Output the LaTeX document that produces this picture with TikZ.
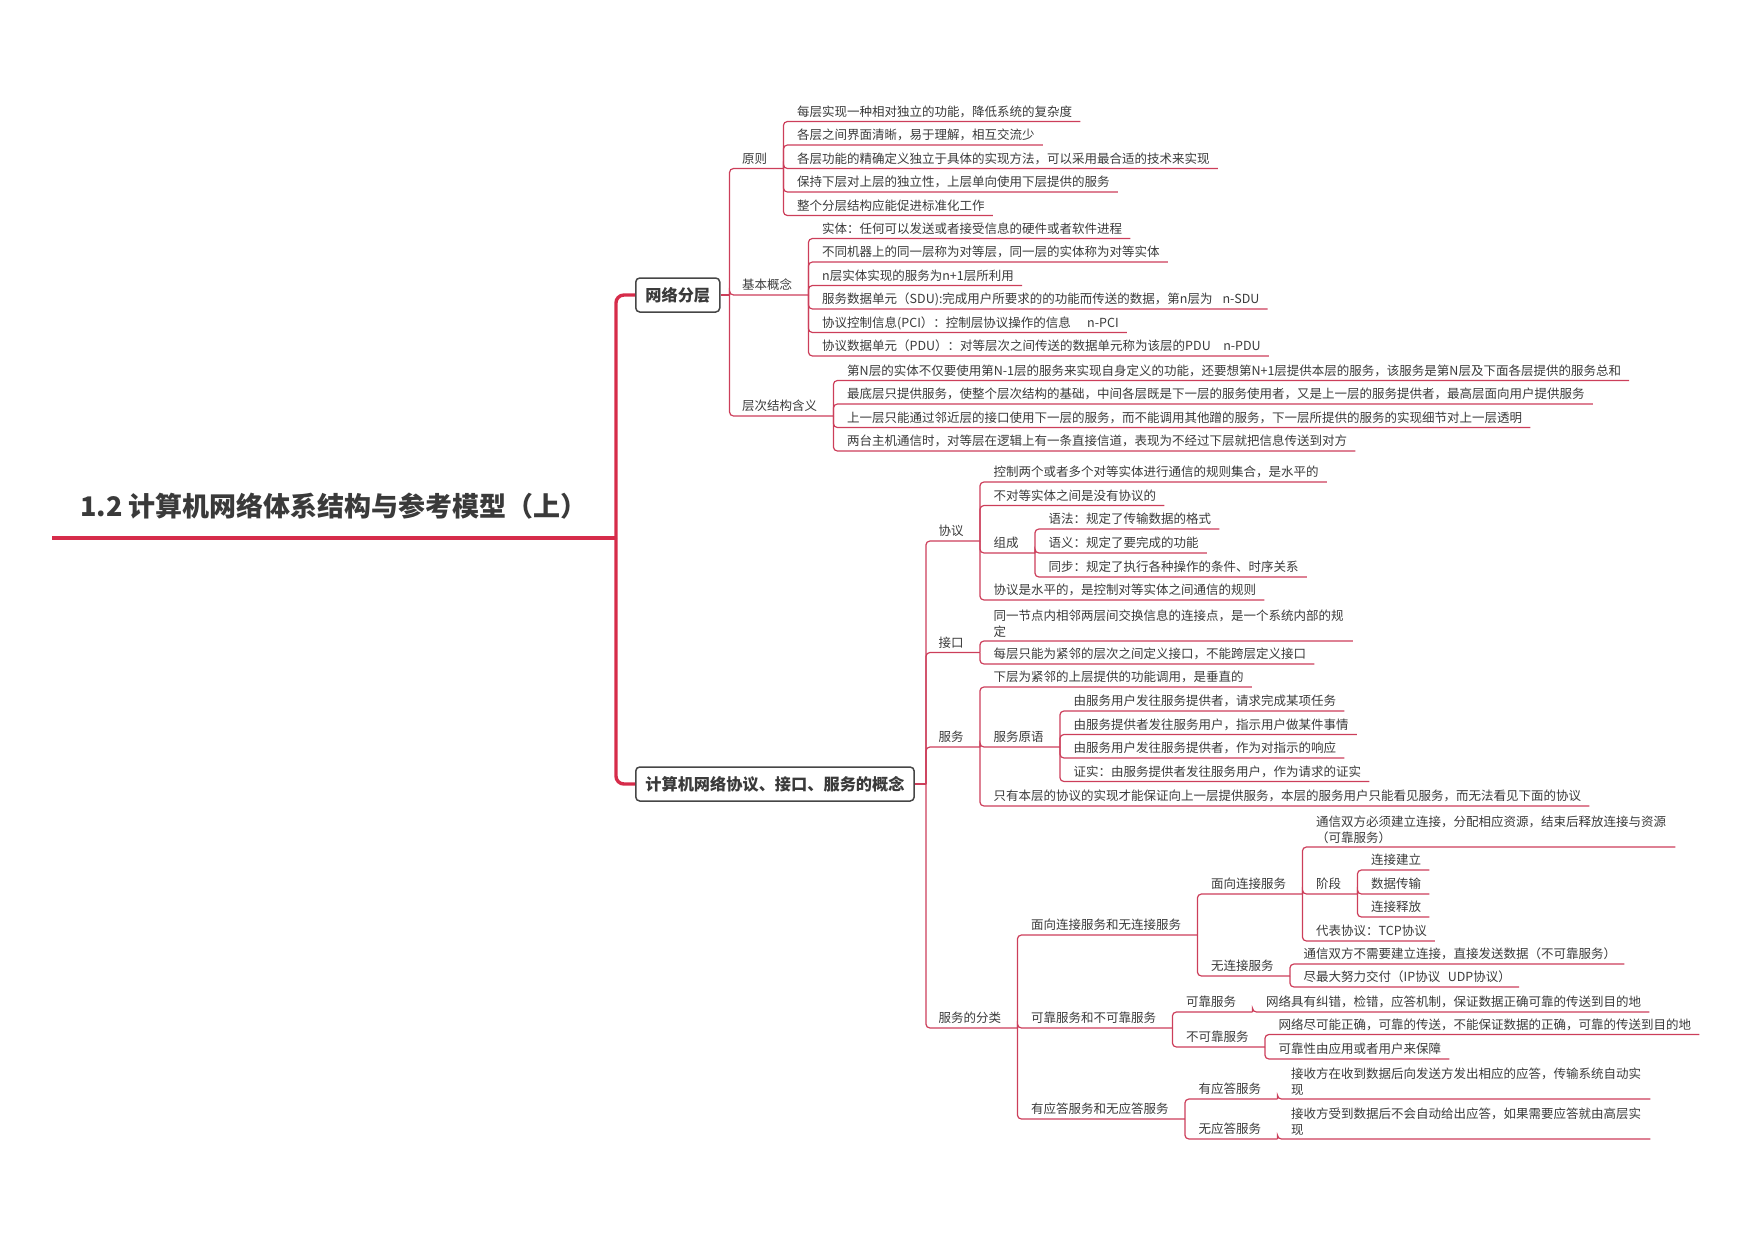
\documentclass[tikz,border=0pt]{standalone}
\usepackage{fontspec}
\setmainfont{Noto Sans CJK SC}
\usepackage{xcolor}
\usepackage{tikz}
\definecolor{mapred}{RGB}{214,44,74}
\definecolor{linkred}{RGB}{204,62,90}
\definecolor{inkgray}{RGB}{58,58,58}
\definecolor{boxgray}{RGB}{70,70,70}
\newcommand{\leaffont}{\fontsize{12.5pt}{15.6pt}\selectfont}
\tikzset{
    topic/.style={
        draw=boxgray,
        line width=1.5pt,
        rounded corners=4pt,
        fill=white,
        text=inkgray,
        font=\fontsize{16.2pt}{19pt}\selectfont\bfseries,
        inner xsep=9.6pt,
        minimum height=34pt,
        anchor=west
    },
    title/.style={
        text=inkgray,
        font=\fontsize{27pt}{32pt}\selectfont\bfseries,
        inner xsep=28pt,
        inner ysep=21.7pt,
        text depth=0pt,
        anchor=south west
    },
    leaf/.style={
        text=inkgray,
        font=\leaffont,
        inner xsep=8pt,
        inner ysep=3.6pt,
        text height=9.5pt,
        text depth=1.6pt,
        anchor=south west
    },
    sub/.style={leaf, inner xsep=16pt},
    leaftwo/.style={
        text=inkgray,
        font=\leaffont,
        inner xsep=8pt,
        inner ysep=3.6pt,
        align=left,
        text width=351pt,
        anchor=south west
    },
    mainline/.style={draw=mapred, line width=3.4pt, rounded corners=8pt},
    titleline/.style={draw=mapred, line width=4.5pt},
    branch/.style={draw=linkred, line width=1.2pt, rounded corners=4pt}
}

\begin{document}
\begin{tikzpicture}[x=1pt,y=-1pt]
    \useasboundingbox (0,0) rectangle (1755,1240);
    \node[title] (title) at (52,538) {1.2 计算机网络体系结构与参考模型（上）};
    \node[topic] (layer) at (635,295) {网络分层};
    \node[topic] (concept) at (635,784) {计算机网络协议、接口、服务的概念};
    \coordinate (hubA) at ([xshift=9pt]layer.east);
    \coordinate (hubB) at ([xshift=11pt]concept.east);

    \node[sub] (yuanze) at (726,168.5) {原则};
    \node[leaf] (yz1) at (789,121.5) {每层实现一种相对独立的功能，降低系统的复杂度};
    \node[leaf] (yz2) at (789,145) {各层之间界面清晰，易于理解，相互交流少};
    \node[leaf] (yz3) at (789,168.5) {各层功能的精确定义独立于具体的实现方法，可以采用最合适的技术来实现};
    \node[leaf] (yz4) at (789,192) {保持下层对上层的独立性，上层单向使用下层提供的服务};
    \node[leaf] (yz5) at (789,215.5) {整个分层结构应能促进标准化工作};

    \node[sub] (gainian) at (726,295) {基本概念};
    \node[leaf] (gn1) at (814,238.5) {实体：任何可以发送或者接受信息的硬件或者软件进程};
    \node[leaf] (gn2) at (814,262) {不同机器上的同一层称为对等层，同一层的实体称为对等实体};
    \node[leaf] (gn3) at (814,285.5) {n层实体实现的服务为n+1层所利用};
    \node[leaf] (gn4) at (814,309) {服务数据单元（SDU):完成用户所要求的的功能而传送的数据，第n层为\hspace{0.8em}n-SDU};
    \node[leaf] (gn5) at (814,332.5) {协议控制信息(PCI）：控制层协议操作的信息\hspace{1.3em}n-PCI};
    \node[leaf] (gn6) at (814,356) {协议数据单元（PDU）：对等层次之间传送的数据单元称为该层的PDU\hspace{1em}n-PDU};

    \node[sub] (cengci) at (726,416) {层次结构含义};
    \node[leaf] (cc1) at (839,380.5) {第N层的实体不仅要使用第N-1层的服务来实现自身定义的功能，还要想第N+1层提供本层的服务，该服务是第N层及下面各层提供的服务总和};
    \node[leaf] (cc2) at (839,404) {最底层只提供服务，使整个层次结构的基础，中间各层既是下一层的服务使用者，又是上一层的服务提供者，最高层面向用户提供服务};
    \node[leaf] (cc3) at (839,427.5) {上一层只能通过邻近层的接口使用下一层的服务，而不能调用其他蹭的服务，下一层所提供的服务的实现细节对上一层透明};
    \node[leaf] (cc4) at (839,451) {两台主机通信时，对等层在逻辑上有一条直接信道，表现为不经过下层就把信息传送到对方};

    \node[sub] (xieyi) at (922.5,541) {协议};
    \node[leaf] (xy1) at (985.5,482) {控制两个或者多个对等实体进行通信的规则集合，是水平的};
    \node[leaf] (xy2) at (985.5,505.5) {不对等实体之间是没有协议的};
    \node[sub] (zucheng) at (977.5,553) {组成};
    \node[leaf] (zc1) at (1040.5,529) {语法：规定了传输数据的格式};
    \node[leaf] (zc2) at (1040.5,553) {语义：规定了要完成的功能};
    \node[leaf] (zc3) at (1040.5,577) {同步：规定了执行各种操作的条件、时序关系};
    \node[leaf] (xy4) at (985.5,600) {协议是水平的，是控制对等实体之间通信的规则};

    \node[sub] (jiekou) at (922.5,652.5) {接口};
    \node[leaftwo] (jk1) at (985.5,641) {同一节点内相邻两层间交换信息的连接点，是一个系统内部的规\\定};
    \node[leaf] (jk2) at (985.5,664) {每层只能为紧邻的层次之间定义接口，不能跨层定义接口};

    \node[sub] (fuwu) at (922.5,747) {服务};
    \node[leaf] (fw1) at (985.5,687) {下层为紧邻的上层提供的功能调用，是垂直的};
    \node[sub] (yuanyu) at (977.5,747) {服务原语};
    \node[leaf] (yy1) at (1065.5,711) {由服务用户发往服务提供者，请求完成某项任务};
    \node[leaf] (yy2) at (1065.5,734.5) {由服务提供者发往服务用户，指示用户做某件事情};
    \node[leaf] (yy3) at (1065.5,758) {由服务用户发往服务提供者，作为对指示的响应};
    \node[leaf] (yy4) at (1065.5,781.5) {证实：由服务提供者发往服务用户，作为请求的证实};
    \node[leaf] (fw3) at (985.5,806) {只有本层的协议的实现才能保证向上一层提供服务，本层的服务用户只能看见服务，而无法看见下面的协议};

    \node[sub] (fenlei) at (922.5,1028) {服务的分类};
    \node[sub] (lianjie) at (1015,935) {面向连接服务和无连接服务};
    \node[sub] (mianxiang) at (1195,894) {面向连接服务};
    \node[leaftwo] (mx1) at (1308,847) {通信双方必须建立连接，分配相应资源，结束后释放连接与资源\\（可靠服务）};
    \node[sub] (jieduan) at (1300,894) {阶段};
    \node[leaf] (jd1) at (1363,870) {连接建立};
    \node[leaf] (jd2) at (1363,894) {数据传输};
    \node[leaf] (jd3) at (1363,917) {连接释放};
    \node[leaf] (mx3) at (1308,941) {代表协议：TCP协议};
    \node[sub] (wulianjie) at (1195,976) {无连接服务};
    \node[leaf] (wl1) at (1295.5,964) {通信双方不需要建立连接，直接发送数据（不可靠服务）};
    \node[leaf] (wl2) at (1295.5,987) {尽最大努力交付（IP协议\hspace{0.6em}UDP协议）};

    \node[sub] (kekao) at (1015,1028) {可靠服务和不可靠服务};
    \node[sub] (kk) at (1170,1012) {可靠服务};
    \node[leaf] (kk1) at (1258,1012) {网络具有纠错，检错，应答机制，保证数据正确可靠的传送到目的地};
    \node[sub] (bukekao) at (1170,1047) {不可靠服务};
    \node[leaf] (bk1) at (1270.5,1034.5) {网络尽可能正确，可靠的传送，不能保证数据的正确，可靠的传送到目的地};
    \node[leaf] (bk2) at (1270.5,1059) {可靠性由应用或者用户来保障};

    \node[sub] (yingda) at (1015,1119) {有应答服务和无应答服务};
    \node[sub] (yd) at (1182.5,1099) {有应答服务};
    \node[leaftwo] (yd1) at (1283,1099) {接收方在收到数据后向发送方发出相应的应答，传输系统自动实\\现};
    \node[sub] (wuyingda) at (1182.5,1139) {无应答服务};
    \node[leaftwo] (wd1) at (1283,1139) {接收方受到数据后不会自动给出应答，如果需要应答就由高层实\\现};

    \draw[titleline] (title.south west) -- (title.south east);
    \draw[mainline] (title.south east) |- (layer.west);
    \draw[mainline] (title.south east) |- (concept.west);

    \draw[branch] (layer.east) -- (hubA);
    \draw[branch] (hubA) |- (yuanze.south east);
    \draw[branch] (hubA) |- (gainian.south east);
    \draw[branch] (hubA) |- (cengci.south east);
    \draw[branch] (yuanze.south east) |- (yz1.south east);
    \draw[branch] (yuanze.south east) |- (yz2.south east);
    \draw[branch] (yuanze.south east) |- (yz3.south east);
    \draw[branch] (yuanze.south east) |- (yz4.south east);
    \draw[branch] (yuanze.south east) |- (yz5.south east);
    \draw[branch] (gainian.south east) |- (gn1.south east);
    \draw[branch] (gainian.south east) |- (gn2.south east);
    \draw[branch] (gainian.south east) |- (gn3.south east);
    \draw[branch] (gainian.south east) |- (gn4.south east);
    \draw[branch] (gainian.south east) |- (gn5.south east);
    \draw[branch] (gainian.south east) |- (gn6.south east);
    \draw[branch] (cengci.south east) |- (cc1.south east);
    \draw[branch] (cengci.south east) |- (cc2.south east);
    \draw[branch] (cengci.south east) |- (cc3.south east);
    \draw[branch] (cengci.south east) |- (cc4.south east);

    \draw[branch] (concept.east) -- (hubB);
    \draw[branch] (hubB) |- (xieyi.south east);
    \draw[branch] (hubB) |- (jiekou.south east);
    \draw[branch] (hubB) |- (fuwu.south east);
    \draw[branch] (hubB) |- (fenlei.south east);
    \draw[branch] (xieyi.south east) |- (xy1.south east);
    \draw[branch] (xieyi.south east) |- (xy2.south east);
    \draw[branch] (xieyi.south east) |- (zucheng.south east);
    \draw[branch] (xieyi.south east) |- (xy4.south east);
    \draw[branch] (zucheng.south east) |- (zc1.south east);
    \draw[branch] (zucheng.south east) |- (zc2.south east);
    \draw[branch] (zucheng.south east) |- (zc3.south east);
    \draw[branch] (jiekou.south east) |- (jk1.south east);
    \draw[branch] (jiekou.south east) |- (jk2.south east);
    \draw[branch] (fuwu.south east) |- (fw1.south east);
    \draw[branch] (fuwu.south east) |- (yuanyu.south east);
    \draw[branch] (fuwu.south east) |- (fw3.south east);
    \draw[branch] (yuanyu.south east) |- (yy1.south east);
    \draw[branch] (yuanyu.south east) |- (yy2.south east);
    \draw[branch] (yuanyu.south east) |- (yy3.south east);
    \draw[branch] (yuanyu.south east) |- (yy4.south east);
    \draw[branch] (fenlei.south east) |- (lianjie.south east);
    \draw[branch] (fenlei.south east) |- (kekao.south east);
    \draw[branch] (fenlei.south east) |- (yingda.south east);
    \draw[branch] (lianjie.south east) |- (mianxiang.south east);
    \draw[branch] (lianjie.south east) |- (wulianjie.south east);
    \draw[branch] (mianxiang.south east) |- (mx1.south east);
    \draw[branch] (mianxiang.south east) |- (jieduan.south east);
    \draw[branch] (mianxiang.south east) |- (mx3.south east);
    \draw[branch] (jieduan.south east) |- (jd1.south east);
    \draw[branch] (jieduan.south east) |- (jd2.south east);
    \draw[branch] (jieduan.south east) |- (jd3.south east);
    \draw[branch] (wulianjie.south east) |- (wl1.south east);
    \draw[branch] (wulianjie.south east) |- (wl2.south east);
    \draw[branch] (kekao.south east) |- (kk.south east);
    \draw[branch] (kekao.south east) |- (bukekao.south east);
    \draw[branch] (kk.south east) |- (kk1.south east);
    \draw[branch] (bukekao.south east) |- (bk1.south east);
    \draw[branch] (bukekao.south east) |- (bk2.south east);
    \draw[branch] (yingda.south east) |- (yd.south east);
    \draw[branch] (yingda.south east) |- (wuyingda.south east);
    \draw[branch] (yd.south east) |- (yd1.south east);
    \draw[branch] (wuyingda.south east) |- (wd1.south east);
\end{tikzpicture}
\end{document}
